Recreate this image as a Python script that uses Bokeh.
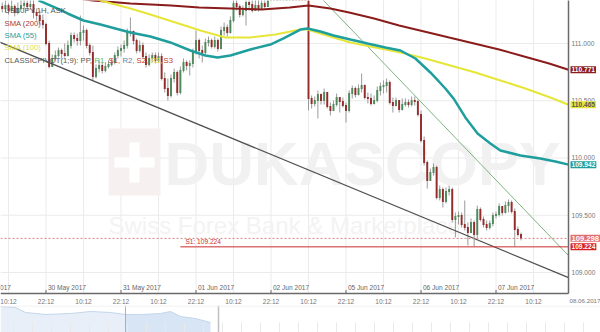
import numpy as np
from bokeh.plotting import figure
from bokeh.layouts import column
from bokeh.models import Label, ColumnDataSource, Range1d
from bokeh.embed import file_html
from bokeh.resources import INLINE
from bokeh.core.properties import value

# ---------------- data (hourly candles, index in trading hours from 29 May 10:12) -------------
hours = list(range(-2, 165))
first_open = 111.323
closes = [111.306, 111.332, 111.288, 111.323, 111.271, 111.306, 111.332, 111.349, 111.323, 111.341,
          111.271, 111.244, 111.201, 111.166, 111.000, 110.799, 110.869, 110.895, 110.939, 110.913,
          110.895, 110.982, 111.070, 111.044, 111.026, 111.096, 111.113, 110.982, 110.921, 110.712,
          110.782, 110.808, 110.764, 110.799, 110.817, 110.834, 110.895, 110.939, 110.956, 110.982,
          111.096, 111.105, 111.026, 110.939, 110.982, 110.886, 110.817, 110.869, 110.895, 110.852,
          110.886, 110.694, 110.607, 110.546, 110.694, 110.747, 110.572, 110.764, 110.834, 110.808,
          110.825, 110.921, 111.026, 110.939, 110.921, 111.009, 111.026, 110.974, 111.026, 110.956,
          111.113, 111.140, 111.096, 111.201, 111.349, 111.323, 111.253, 111.288, 111.358, 111.341,
          111.288, 111.332, 111.306, 111.349, 111.323, 111.410, 111.463, 111.498, 111.480, 111.515,
          111.550, 111.533, 111.568, 111.541, 111.585, 111.550, 111.524, 111.445, 110.520, 110.476,
          110.502, 110.555, 110.502, 110.572, 110.450, 110.415, 110.467, 110.528, 110.493, 110.458,
          110.415, 110.563, 110.607, 110.555, 110.607, 110.633, 110.528, 110.520, 110.476, 110.502,
          110.590, 110.624, 110.633, 110.659, 110.485, 110.458, 110.502, 110.424, 110.467, 110.485,
          110.467, 110.502, 110.493, 110.380, 110.153, 109.961, 109.803, 109.873, 109.917, 109.655,
          109.725, 109.620, 109.707, 109.725, 109.463, 109.489, 109.498, 109.419, 109.393, 109.349,
          109.437, 109.332, 109.550, 109.463, 109.419, 109.393, 109.428, 109.498, 109.507, 109.576,
          109.524, 109.585, 109.611, 109.533, 109.375, 109.332, 109.298]
highs = [111.358, 111.376, 111.349, 111.376, 111.341, 111.358, 111.393, 111.410, 111.376, 111.402,
         111.402, 111.306, 111.288, 111.253, 111.183, 111.026, 110.904, 110.939, 110.965, 110.956,
         111.000, 111.026, 111.096, 111.096, 111.087, 111.244, 111.157, 111.131, 111.000, 110.982,
         110.817, 110.852, 110.834, 110.834, 110.852, 110.869, 110.921, 110.974, 110.991, 111.026,
         111.131, 111.227, 111.113, 111.044, 111.026, 111.009, 110.921, 110.904, 110.921, 110.921,
         110.921, 110.913, 110.747, 110.694, 110.729, 110.782, 110.764, 110.799, 110.869, 110.852,
         110.852, 110.956, 111.113, 111.044, 110.982, 111.044, 111.061, 111.044, 111.061, 111.044,
         111.148, 111.183, 111.166, 111.236, 111.419, 111.393, 111.341, 111.332, 111.410, 111.428,
         111.393, 111.402, 111.393, 111.410, 111.402, 111.463, 111.507, 111.550, 111.533, 111.568,
         111.603, 111.585, 111.620, 111.594, 111.638, 111.611, 111.585, 111.550, 111.480, 110.546,
         110.537, 110.590, 110.563, 110.607, 110.572, 110.485, 110.502, 110.563, 110.528, 110.528,
         110.485, 110.590, 110.633, 110.624, 110.642, 110.738, 110.642, 110.572, 110.563, 110.546,
         110.624, 110.659, 110.677, 110.694, 110.677, 110.528, 110.528, 110.502, 110.520, 110.520,
         110.511, 110.537, 110.537, 110.511, 110.415, 110.188, 109.978, 109.908, 109.952, 109.934,
         109.760, 109.742, 109.742, 109.760, 109.742, 109.524, 109.533, 109.524, 109.629, 109.437,
         109.472, 109.454, 109.585, 109.568, 109.489, 109.454, 109.454, 109.524, 109.533, 109.603,
         109.559, 109.620, 109.638, 109.629, 109.559, 109.402, 109.349]
lows = [111.271, 111.271, 111.253, 111.271, 111.236, 111.253, 111.288, 111.306, 111.288, 111.297,
        111.218, 111.201, 111.166, 111.131, 110.982, 110.782, 110.799, 110.852, 110.878, 110.869,
        110.878, 110.886, 110.956, 111.009, 110.982, 110.982, 111.026, 110.956, 110.895, 110.677,
        110.694, 110.747, 110.738, 110.747, 110.782, 110.799, 110.817, 110.869, 110.886, 110.921,
        110.956, 111.061, 110.991, 110.913, 110.921, 110.869, 110.790, 110.799, 110.834, 110.825,
        110.834, 110.677, 110.572, 110.502, 110.528, 110.659, 110.546, 110.555, 110.747, 110.764,
        110.720, 110.790, 110.904, 110.869, 110.834, 110.904, 110.974, 110.956, 110.956, 110.930,
        110.948, 111.070, 111.061, 111.087, 111.183, 111.288, 111.227, 111.236, 111.157, 111.288,
        111.271, 111.288, 111.279, 111.297, 111.306, 111.323, 111.402, 111.428, 111.428, 111.454,
        111.480, 111.480, 111.507, 111.489, 111.515, 111.498, 111.463, 111.410, 110.415, 110.432,
        110.450, 110.345, 110.467, 110.467, 110.432, 110.371, 110.415, 110.450, 110.397, 110.441,
        110.310, 110.397, 110.520, 110.528, 110.546, 110.572, 110.511, 110.476, 110.458, 110.467,
        110.485, 110.546, 110.563, 110.572, 110.467, 110.397, 110.450, 110.397, 110.415, 110.450,
        110.441, 110.450, 110.458, 110.362, 110.135, 109.934, 109.733, 109.803, 109.847, 109.638,
        109.629, 109.568, 109.603, 109.672, 109.437, 109.306, 109.419, 109.393, 109.367, 109.236,
        109.349, 109.227, 109.298, 109.445, 109.393, 109.367, 109.375, 109.402, 109.472, 109.489,
        109.498, 109.515, 109.524, 109.515, 109.227, 109.314, 109.280]

sma200_h = [17, 27, 39, 52, 61, 71, 81, 90, 96, 103, 109, 117, 125, 133, 141, 149, 157, 165, 173, 179.2]
sma200_v = [111.410, 111.376, 111.349, 111.332, 111.314, 111.306, 111.297, 111.314, 111.332, 111.306,
            111.271, 111.218, 111.157, 111.105, 111.052, 111.000, 110.948, 110.886, 110.825, 110.771]
sma55_h = [9.6, 15.0, 18.9, 24.0, 29.4, 39.0, 45.4, 51.8, 58.2, 63.0, 66.9, 71.0, 77.4, 83.8, 88.0,
           93.4, 95.7, 99.8, 104.0, 109.4, 114.9, 120.6, 125.4, 130.2, 135.0, 139.8, 142.4, 146.2,
           150.1, 154.2, 157.4, 163.8, 170.2, 175.0, 179.2]
sma55_v = [111.376, 111.314, 111.262, 111.201, 111.166, 111.096, 111.061, 111.009, 110.939, 110.895,
           110.878, 110.895, 110.948, 110.991, 111.044, 111.122, 111.131, 111.105, 111.070, 111.035,
           111.000, 110.965, 110.939, 110.869, 110.747, 110.607, 110.520, 110.354, 110.214, 110.127,
           110.066, 110.022, 109.996, 109.969, 109.942]
sma100_h = [24.6, 29.4, 39.0, 45.4, 53.4, 61.4, 69.4, 77.4, 85.4, 93.4, 95.7, 104.0, 109.4, 117.4,
            125.4, 133.4, 141.4, 149.4, 157.4, 165.4, 173.4, 179.2]
sma100_v = [111.419, 111.376, 111.306, 111.253, 111.183, 111.113, 111.052, 111.052, 111.079, 111.122,
            111.122, 111.052, 111.009, 110.965, 110.921, 110.869, 110.808, 110.747, 110.677, 110.607,
            110.528, 110.465]

trend_down_h = [-3, 179.2]
trend_down_v = [111.014, 108.955]
trend_green_h = [99, 179.2]
trend_green_v = [111.427, 109.148]

current_price = 109.298
s1_level = 109.224
s1_start_h = 55
tags = [(110.771, "110.771"), (110.465, "110.465"), (109.942, "109.942"),
        (109.298, "109.298"), (109.224, "109.224")]

y_ticks = [109.0, 109.5, 110.0, 110.5, 111.0]
y_tick_labels = ["109.000", "109.500", "110.000", "110.500", "111.000"]
time_hours = list(range(0, 169, 12))
time_labels = ["10:12", "22:12"] * 7 + ["10:12"]
date_hours = [-12, 12, 36, 60, 84, 108, 132, 156]
date_labels = ["29 May 2017", "30 May 2017", "31 May 2017", "01 Jun 2017", "02 Jun 2017",
               "05 Jun 2017", "06 Jun 2017", "07 Jun 2017"]
end_date_label = "08.06.2017"

nav_x = [0, 15, 25, 45, 70, 90, 110, 125, 140, 160, 170, 180, 195, 210]
nav_top = [26, 25, 20, 18, 19, 21, 20, 18, 18, 19, 21, 16, 14, 10]

# ---------------- layout helpers -----------------
W, H = 600, 305          # canvas of the price panel (frame covers it all)
X0, X1 = -2.56, 179.2    # price area spans px 0..568
PXH = 3.125              # px per hour
Y1 = 111.3755            # price at top edge
PPY = 0.0087336          # price per px
Y0 = Y1 - 293 * PPY      # price at bottom border (px 293)


def hx(px):
    return X0 + px / PXH


def vy(py):
    return Y1 - py * PPY


FONT = "Liberation Sans"

p = figure(frame_width=W, frame_height=H, x_range=Range1d(X0, hx(W)), y_range=Range1d(vy(H), Y1),
           x_axis_location=None, y_axis_location=None, toolbar_location=None,
           output_backend="svg", min_border=0)
p.outline_line_color = None
p.center = []
p.background_fill_color = "white"

# grid
gx = list(range(-12, 181, 12))
p.segment(x0=gx, y0=[Y0] * len(gx), x1=gx, y1=[Y1 + 0.05] * len(gx), line_color="#ebebeb", line_width=1)
p.segment(x0=[X0] * len(y_ticks), y0=y_ticks, x1=[X1] * len(y_ticks), y1=y_ticks,
          line_color="#ebebeb", line_width=1)

# watermark
p.quad(left=[hx(108)], right=[hx(160)], top=[vy(128)], bottom=[vy(195)],
       fill_color="#f7f0f0", line_color=None)
p.quad(left=[hx(129)], right=[hx(139)], top=[vy(142)], bottom=[vy(182)],
       fill_color="white", line_color=None)
p.quad(left=[hx(114)], right=[hx(154)], top=[vy(157)], bottom=[vy(167)],
       fill_color="white", line_color=None)
p.text(x=[hx(164)], y=[vy(163)], text=["DUKASCOPY"], text_font=value(FONT),
       text_font_style="bold", text_font_size="62px", text_color="#f1f1f1",
       text_baseline="middle", text_align="left")
p.text(x=[hx(108)], y=[vy(225)], text=["Swiss Forex Bank & Marketplace"], text_font=value(FONT),
       text_font_size="24px", text_color="#f3f3f3", text_baseline="middle", text_align="left")

# candles
opens = [first_open] + closes[:-1]
up = [c >= o for o, c in zip(opens, closes)]
src = ColumnDataSource(dict(
    h=hours,
    top=[max(o, c) + 0.004 for o, c in zip(opens, closes)],
    bot=[min(o, c) - 0.004 for o, c in zip(opens, closes)],
    hi=[min(max(h, o, c), Y1 + 0.2) for h, o, c in zip(highs, opens, closes)],
    lo=[min(l, o, c) for l, o, c in zip(lows, opens, closes)],
    col=["#4e8a5c" if u else "#962b2b" for u in up],
))
p.segment(x0="h", y0="hi", x1="h", y1="lo", source=src, line_color="#9a9a9a", line_width=1)
p.vbar(x="h", width=0.62, top="top", bottom="bot", source=src, fill_color="col", line_color=None)

# trend lines
p.line(trend_down_h, trend_down_v, line_color="#505050", line_width=1.2)
p.line(trend_green_h, trend_green_v, line_color="#7fb27f", line_width=1)

# moving averages
p.line(sma200_h, sma200_v, line_color="#8b1c1c", line_width=2)
p.line(sma100_h, sma100_v, line_color="#e6e639", line_width=2)
p.line(sma55_h, sma55_v, line_color="#1f9e9e", line_width=2.5)

# levels
p.segment(x0=[X0], y0=[current_price], x1=[X1], y1=[current_price], line_color="#d98080",
          line_dash="2 2", line_width=1)
p.segment(x0=[s1_start_h], y0=[s1_level], x1=[X1], y1=[s1_level], line_color="#cc2b2b", line_width=1)
p.text(x=[s1_start_h + 1.6], y=[s1_level + 0.012], text=["S1: 109.224"], text_font=value(FONT),
       text_font_size="6.6px", text_color="#cc2b2b", text_baseline="bottom")

# clear area under/right of the price panel
p.quad(left=[X1], right=[hx(W)], top=[Y1 + 0.1], bottom=[vy(H)], fill_color="white", line_color=None)
p.quad(left=[X0], right=[hx(W)], top=[Y0], bottom=[vy(H)], fill_color="white", line_color=None)

# frame borders
p.segment(x0=[X1], y0=[Y0], x1=[X1], y1=[Y1 + 0.1], line_color="#6a6a6a", line_width=1.5)
p.segment(x0=[X0], y0=[Y0], x1=[X1], y1=[Y0], line_color="#6a6a6a", line_width=1.5)
p.segment(x0=date_hours, y0=[Y0] * len(date_hours), x1=date_hours, y1=[vy(289.5)] * len(date_hours),
          line_color="#6a6a6a", line_width=1)

# date labels inside the frame
p.text(x=[d + 0.6 for d in date_hours], y=[vy(286.5)] * len(date_hours), text=date_labels,
       text_font=value(FONT), text_font_size="6.6px", text_color="#666666",
       text_baseline="middle", text_align="left")

# time labels below the frame
p.text(x=time_hours, y=[vy(300.5)] * len(time_hours), text=time_labels, text_font=value(FONT),
       text_font_size="6.6px", text_color="#777777", text_align="center", text_baseline="middle")
p.text(x=[hx(569)], y=[vy(300.5)], text=[end_date_label], text_font=value(FONT),
       text_font_size="6.2px", text_color="#777777", text_align="left", text_baseline="middle")

# right price scale
p.text(x=[hx(571)] * len(y_ticks), y=y_ticks, text=y_tick_labels, text_font=value(FONT),
       text_font_size="6.6px", text_color="#777777", text_align="left", text_baseline="middle")
tag_style = {"110.771": ("#8b1c1c", "white", "6.6px"), "110.465": ("#e6e639", "#555555", "6.6px"),
             "109.942": ("#1f9e9e", "white", "6.6px"), "109.298": ("#e07070", "white", "7.6px"),
             "109.224": ("#d62020", "white", "6.6px")}
for tv, tl in tags:
    bg, fg, fs = tag_style[tl]
    p.add_layout(Label(x=hx(570), y=tv, text=tl, text_font=FONT, text_font_size=fs,
                       text_font_style="bold", text_color=fg, background_fill_color=bg,
                       text_align="left", text_baseline="middle", padding=1))

# legend texts
legend_rows = [("USDJPY 1H, ASK", "#555555", 10), ("SMA (200)", "#a33a3a", 22.5),
               ("SMA (55)", "#25a3a3", 34.5), ("SMA (100)", "#e0e040", 47)]
for t, c, yy in legend_rows:
    p.add_layout(Label(x=hx(4), y=vy(yy), text=t, text_font=FONT, text_font_size="7.7px",
                       text_color=c, text_baseline="middle", text_align="left"))
pivot_parts = [("CLASSICPIVOT(1;9): PP,", "#555555", 4), ("R1,", "#5cb85c", 94),
               ("S1,", "#c0392b", 108), ("R2,", "#5b7fa8", 122), ("S2,", "#c0392b", 136),
               ("R3,", "#e0e040", 150), ("S3", "#c0392b", 163)]
for t, c, xx in pivot_parts:
    p.add_layout(Label(x=hx(xx), y=vy(60), text=t, text_font=FONT, text_font_size="7.7px",
                       text_color=c, text_baseline="middle", text_align="left"))

# ---------------- navigator -----------------
nav = figure(frame_width=600, frame_height=27, x_range=Range1d(0, 600), y_range=Range1d(0, 27),
             x_axis_location=None, y_axis_location=None, toolbar_location=None,
             output_backend="svg", min_border=0)
nav.center = []
nav.outline_line_color = None
nav.varea(x=nav_x[:8], y1=[0] * 8, y2=nav_top[:8], fill_color="#e8eff8")
nav.varea(x=nav_x[7:], y1=[0] * 7, y2=nav_top[7:], fill_color="#d8e5f4")
nav.line(nav_x, nav_top, line_color="#c3d5ea", line_width=1)
tick_x = list(range(13, 600, 19))
nav.segment(x0=tick_x, y0=[0] * len(tick_x), x1=tick_x, y1=[10] * len(tick_x),
            line_color="#e9e9e9", line_width=1)
nav.segment(x0=[125], y0=[0], x1=[125], y1=[27], line_color="#b0b0b0", line_width=1)
nav.segment(x0=[218], y0=[0], x1=[218], y1=[27], line_color="#c0c0c0", line_width=1.5)
nav.segment(x0=[0], y0=[26.5], x1=[600], y1=[26.5], line_color="#eeeeee", line_width=1)

layout = column(p, nav, spacing=0)
open("out.html", "w").write(file_html(layout, INLINE))
